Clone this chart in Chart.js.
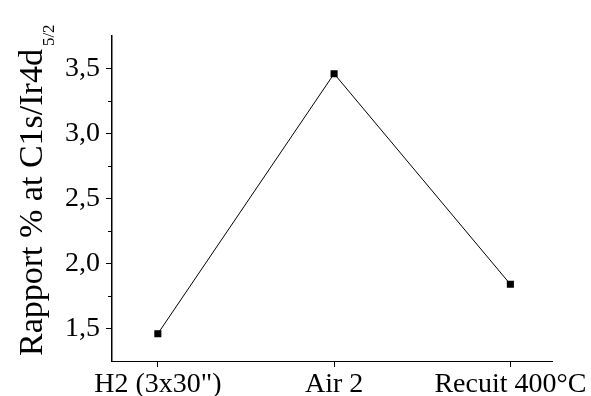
<!DOCTYPE html>
<html>
<head>
<meta charset="utf-8">
<script src="https://cdn.jsdelivr.net/npm/chart.js@4"></script>
<style>
  html, body { margin: 0; padding: 0; background: #fff; }
  #wrap { width: 591px; height: 396px; }
</style>
</head>
<body>
<div id="wrap"><canvas id="chart" width="591" height="396"></canvas></div>
<script>
// valeurs
const categories = ["H2 (3x30\")", "Air 2", "Recuit 400°C"];
const rapport = [1.46, 3.46, 1.84];
const yTicks = [1.5, 2.0, 2.5, 3.0, 3.5];
const yMinorTicks = [1.75, 2.25, 2.75, 3.25];
const xTicks = [0, 1, 2];

const serif = '"Liberation Serif", "DejaVu Serif", serif';

// petits traits secondaires + titre vertical avec indice
const extras = {
  id: "extras",
  afterDraw(chart) {
    const ctx = chart.ctx;
    const y = chart.scales.y;
    ctx.save();
    ctx.strokeStyle = "#000";
    ctx.lineWidth = 1;
    yMinorTicks.forEach(v => {
      const py = Math.round(y.getPixelForValue(v)) + 0.5;
      ctx.beginPath();
      ctx.moveTo(y.right - 4, py);
      ctx.lineTo(y.right, py);
      ctx.stroke();
    });

    ctx.fillStyle = "#000";
    ctx.translate(42, 356);
    ctx.rotate(-Math.PI / 2);
    ctx.textAlign = "left";
    ctx.textBaseline = "alphabetic";
    ctx.font = "34px " + serif;
    const main = "Rapport % at C1s/Ir4d";
    ctx.fillText(main, 0, 0);
    const w = ctx.measureText(main).width;
    ctx.font = "17px " + serif;
    ctx.fillText("5/2", w + 3, 12);
    ctx.restore();
  }
};

const ctx = document.getElementById("chart").getContext("2d");
const chart = new Chart(ctx, {
  type: "line",
  data: {
    datasets: [{
      data: categories.map((c, i) => ({ x: xTicks[i], y: rapport[i] })),
      borderColor: "#000",
      borderWidth: 1,
      backgroundColor: "#000",
      pointStyle: "rect",
      pointRadius: 5,
      pointBorderWidth: 0,
      tension: 0,
      fill: false
    }]
  },
  options: {
    responsive: false,
    animation: false,
    layout: { padding: { top: 36, right: 38, left: 0, bottom: 0 } },
    plugins: { legend: { display: false }, tooltip: { enabled: false } },
    scales: {
      x: {
        type: "linear",
        min: -0.26,
        max: 2.24,
        afterBuildTicks: s => { s.ticks = xTicks.map(v => ({ value: v })); },
        afterFit: s => { s.height = 35; },
        grid: { drawOnChartArea: false, tickLength: 6, color: "#000" },
        border: { color: "#000", width: 1 },
        ticks: {
          color: "#000",
          padding: 1,
          maxRotation: 0,
          font: { family: serif, size: 28 },
          callback: v => categories[Math.round(v)]
        }
      },
      y: {
        min: 1.25,
        max: 3.75,
        afterBuildTicks: s => { s.ticks = yTicks.map(v => ({ value: v })); },
        afterFit: s => { s.width = 112; },
        grid: { drawOnChartArea: false, tickLength: 6, color: "#000" },
        border: { color: "#000", width: 1.5 },
        ticks: {
          color: "#000",
          padding: 6,
          font: { family: serif, size: 28 },
          callback: v => v.toFixed(1).replace(".", ",")
        }
      }
    }
  },
  plugins: [extras]
});
</script>
</body>
</html>
